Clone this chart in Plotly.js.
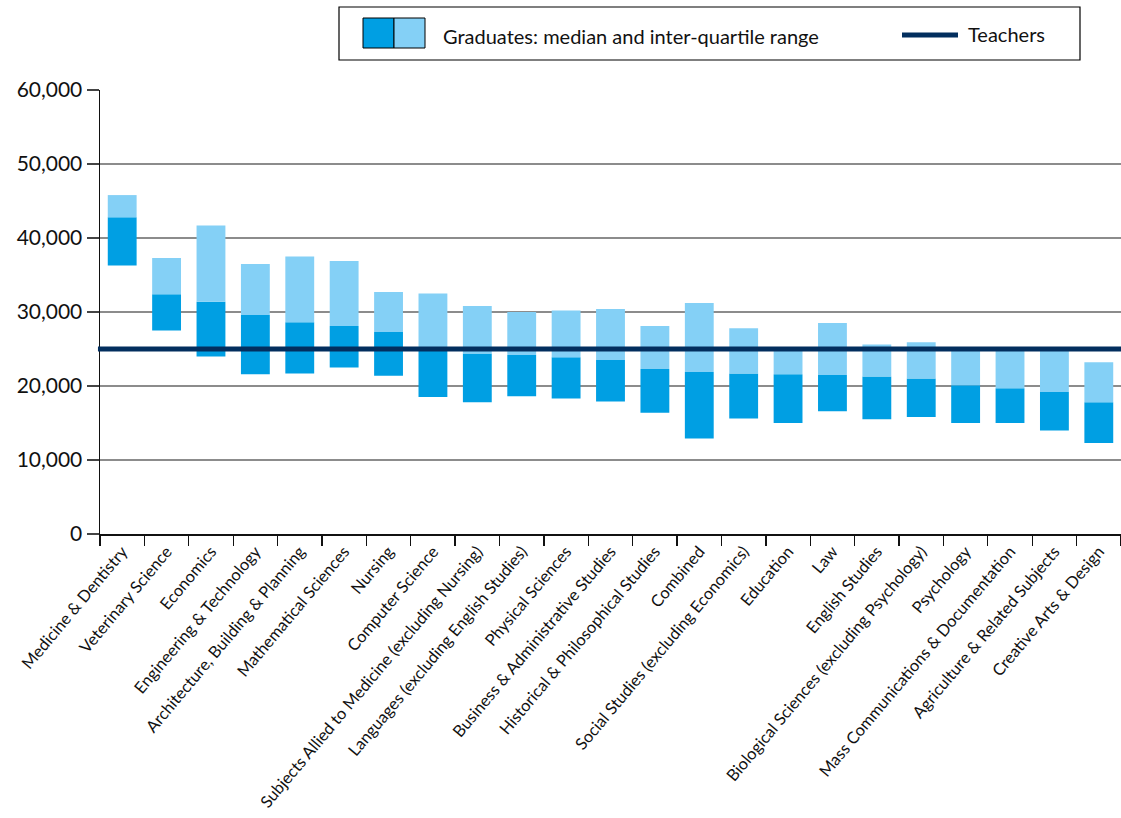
<!DOCTYPE html>
<html>
<head>
<meta charset="utf-8">
<script src="https://cdn.plot.ly/plotly-3.0.1.min.js"></script>
<style>
html,body{margin:0;padding:0;background:#fff;}
#chart{width:1121px;height:818px;}
</style>
</head>
<body>
<div id="chart"></div>
<script>
const categories = [
  "Medicine & Dentistry", "Veterinary Science", "Economics", "Engineering & Technology",
  "Architecture, Building & Planning", "Mathematical Sciences", "Nursing", "Computer Science",
  "Subjects Allied to Medicine (excluding Nursing)", "Languages (excluding English Studies)",
  "Physical Sciences", "Business & Administrative Studies", "Historical & Philosophical Studies",
  "Combined", "Social Studies (excluding Economics)", "Education", "Law", "English Studies",
  "Biological Sciences (excluding Psychology)", "Psychology", "Mass Communications & Documentation",
  "Agriculture & Related Subjects", "Creative Arts & Design"
];
const lowerQuartile = [36300, 27500, 24000, 21600, 21700, 22500, 21400, 18500, 17800, 18600, 18300, 17900,
  16400, 12900, 15600, 15000, 16600, 15500, 15800, 15000, 15000, 14000, 12300];
const medianSalary = [42800, 32400, 31400, 29600, 28600, 28100, 27300, 24900, 24400, 24200, 23900, 23500,
  22300, 21900, 21700, 21600, 21500, 21300, 21000, 20100, 19700, 19200, 17800];
const upperQuartile = [45800, 37300, 41700, 36500, 37500, 36900, 32700, 32500, 30800, 30000, 30200, 30400,
  28100, 31200, 27800, 24800, 28500, 25600, 25900, 24900, 24900, 24900, 23200];
const teacherSalary = 25000;
const yTicks = [0, 10000, 20000, 30000, 40000, 50000, 60000];
const legendLabels = ["Graduates: median and inter-quartile range", "Teachers"];

const DARK = "#009fe3";
const LIGHT = "#84d0f6";
const NAVY = "#022e5e";
const FONT = "Lato, 'Open Sans', sans-serif";

// plot area in pixels (for placing the legend box)
const W = 1121, H = 818;
const M = {l: 100, r: 0, t: 90, b: 284};
const pw = W - M.l - M.r, ph = H - M.t - M.b;
const px = x => (x - M.l) / pw;
const py = y => (H - M.b - y) / ph;

const lowerPart = {
  type: "bar", x: categories,
  base: lowerQuartile,
  y: medianSalary.map((m, i) => m - lowerQuartile[i]),
  marker: {color: DARK, line: {width: 0}},
  showlegend: false, hoverinfo: "skip"
};
const upperPart = {
  type: "bar", x: categories,
  base: medianSalary,
  y: upperQuartile.map((q, i) => q - medianSalary[i]),
  marker: {color: LIGHT, line: {width: 0}},
  showlegend: false, hoverinfo: "skip"
};

const shapes = [
  // teacher line
  {type: "line", xref: "paper", yref: "y", x0: -0.002, x1: 1, y0: teacherSalary, y1: teacherSalary,
   line: {color: NAVY, width: 5}, layer: "above"},
  // legend box
  {type: "rect", xref: "paper", yref: "paper", x0: px(339), x1: px(1080), y0: py(60), y1: py(7),
   line: {color: "#000", width: 1.2}, fillcolor: "rgba(0,0,0,0)"},
  {type: "rect", xref: "paper", yref: "paper", x0: px(363), x1: px(394), y0: py(48), y1: py(18),
   line: {color: "#000", width: 1}, fillcolor: DARK},
  {type: "rect", xref: "paper", yref: "paper", x0: px(394), x1: px(425), y0: py(48), y1: py(18),
   line: {color: "#000", width: 1}, fillcolor: LIGHT},
  {type: "line", xref: "paper", yref: "paper", x0: px(902), x1: px(958), y0: py(35), y1: py(35),
   line: {color: NAVY, width: 5}}
];

const annotations = [
  {xref: "paper", yref: "paper", x: px(441), y: py(36), text: legendLabels[0], showarrow: false,
   xanchor: "left", yanchor: "middle", font: {family: FONT, size: 20, color: "#111"}},
  {xref: "paper", yref: "paper", x: px(966), y: py(34), text: legendLabels[1], showarrow: false,
   xanchor: "left", yanchor: "middle", font: {family: FONT, size: 20, color: "#111"}}
];

const layout = {
  width: W, height: H,
  margin: M,
  paper_bgcolor: "#fff", plot_bgcolor: "#fff",
  font: {family: FONT, color: "#111"},
  barmode: "overlay", bargap: 0.35,
  showlegend: false,
  xaxis: {
    type: "category", tickangle: -50, ticks: "outside", tickson: "boundaries",
    ticklen: 10, tickwidth: 1.3, tickcolor: "#111",
    showline: true, linecolor: "#111", linewidth: 1.5,
    showgrid: false, tickfont: {family: FONT, size: 16.4, color: "#111"},
    range: [-0.5, categories.length - 0.5], fixedrange: true
  },
  yaxis: {
    range: [0, 60000], tickvals: yTicks, tickformat: ",", ticks: "outside",
    ticklen: 12, tickwidth: 1.3, tickcolor: "#444",
    showline: true, linecolor: "#111", linewidth: 1.5,
    showgrid: true, gridcolor: "#8c8c8c", gridwidth: 1.5, zeroline: false,
    tickfont: {family: FONT, size: 21, color: "#111"}, fixedrange: true
  },
  shapes: shapes,
  annotations: annotations
};

Plotly.newPlot("chart", [lowerPart, upperPart], layout, {displayModeBar: false, staticPlot: true});
</script>
</body>
</html>
